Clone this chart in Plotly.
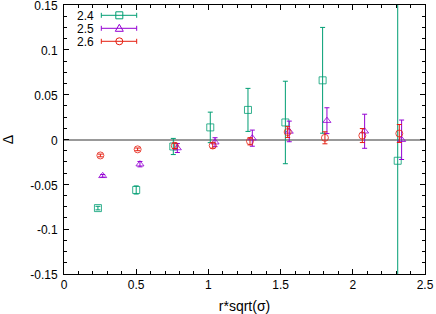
import plotly.graph_objects as go

# Series 2.4
s24_x = [0.235, 0.500, 0.757, 1.013, 1.274, 1.533, 1.791, 2.311]
s24_y = [-0.0765, -0.0563, -0.0078, 0.0135, 0.033, 0.019, 0.066, -0.0237]
s24_e = [0.002, 0.0045, 0.009, 0.017, 0.024, 0.046, 0.059, 0.25]
# Series 2.5
s25_x = [0.268, 0.526, 0.785, 1.046, 1.304, 1.560, 1.821, 2.082, 2.338]
s25_y = [-0.0405, -0.0275, -0.0095, -0.003, 0.0015, 0.009, 0.021, 0.0092, -0.0003]
s25_e = [0.0015, 0.003, 0.005, 0.005, 0.009, 0.0115, 0.0144, 0.019, 0.022]
# Series 2.6
s26_x = [0.252, 0.510, 0.767, 1.030, 1.288, 1.549, 1.807, 2.066, 2.322]
s26_y = [-0.0178, -0.011, -0.007, -0.0067, -0.002, 0.0083, 0.0019, 0.0044, 0.0067]
s26_e = [0.0015, 0.0015, 0.003, 0.003, 0.004, 0.006, 0.0067, 0.0078, 0.010]

names = ["2.4", "2.5", "2.6"]
colors = ["#009e73", "#9400d3", "#e51e10"]
symbols = ["square-open", "triangle-up-open", "circle-open"]

y_tickvals = [-0.15, -0.1, -0.05, 0, 0.05, 0.1, 0.15]
y_ticktext = ["-0.15", "-0.1", "-0.05", "0", "0.05", "0.1", "0.15"]
x_tickvals = [0, 0.5, 1, 1.5, 2, 2.5]
x_ticktext = ["0", "0.5", "1", "1.5", "2", "2.5"]

W, H = 436, 314
ML, MR, MT, MB = 64, 11, 5, 40
PW, PH = W - ML - MR, H - MT - MB

fig = go.Figure()
for name, xs, ys, es, c, s in zip(names, [s24_x, s25_x, s26_x], [s24_y, s25_y, s26_y],
                                  [s24_e, s25_e, s26_e], colors, symbols):
    fig.add_trace(go.Scatter(
        x=xs, y=ys, mode="markers", name=name, showlegend=False,
        marker=dict(symbol=s, size=7, color=c, opacity=0.8, line=dict(width=1, color=c)),
        error_y=dict(type="data", array=es, visible=True, color=c, thickness=1, width=2.5),
    ))

# gnuplot-style key (label left, error-bar sample right), placed in pixel terms
def px(xp):
    return (xp - ML) / PW

def py(yp):
    return (MT + PH - yp) / PH

font = "Liberation Sans, Arial, sans-serif"
shapes = []
annotations = []
key_rows = [15.3, 28.3, 41.3]
lx0, lx1, mx = 101.3, 136.7, 119.3
for name, c, s, ry in zip(names, colors, symbols, key_rows):
    annotations.append(dict(text=name, x=px(95), y=py(ry), xref="paper", yref="paper",
                            xanchor="right", yanchor="middle", showarrow=False,
                            borderpad=0, height=11,
                            font=dict(size=12, color="black", family=font)))
    shapes.append(dict(type="line", xref="paper", yref="paper", x0=px(lx0), x1=px(lx1),
                       y0=py(ry), y1=py(ry), line=dict(color=c, width=1)))
    for cx in (lx0, lx1):
        shapes.append(dict(type="line", xref="paper", yref="paper", x0=px(cx), x1=px(cx),
                           y0=py(ry - 2.5), y1=py(ry + 2.5), line=dict(color=c, width=1)))
    r = 3.5
    if s.startswith("square"):
        shapes.append(dict(type="rect", xref="paper", yref="paper", x0=px(mx - r), x1=px(mx + r),
                           y0=py(ry + r), y1=py(ry - r), line=dict(color=c, width=1),
                           fillcolor="rgba(0,0,0,0)"))
    elif s.startswith("circle"):
        shapes.append(dict(type="circle", xref="paper", yref="paper", x0=px(mx - r), x1=px(mx + r),
                           y0=py(ry + r), y1=py(ry - r), line=dict(color=c, width=1),
                           fillcolor="rgba(0,0,0,0)"))
    else:
        path = "M {} {} L {} {} L {} {} Z".format(px(mx), py(ry - 4), px(mx - 4), py(ry + 3),
                                                  px(mx + 4), py(ry + 3))
        shapes.append(dict(type="path", xref="paper", yref="paper", path=path,
                           line=dict(color=c, width=1), fillcolor="rgba(0,0,0,0)"))

fig.update_layout(
    width=W, height=H,
    margin=dict(l=ML, r=MR, t=MT, b=MB, autoexpand=False),
    paper_bgcolor="white", plot_bgcolor="white",
    font=dict(family=font, size=12, color="black"),
    showlegend=False,
    shapes=shapes,
    annotations=annotations,
    xaxis=dict(range=[0, 2.5], tickvals=x_tickvals, ticktext=x_ticktext, automargin=False,
               showgrid=False, zeroline=False, showline=True, linecolor="black",
               linewidth=1, mirror="ticks", ticks="inside", ticklen=5, tickcolor="black",
               ticklabeloverflow="allow",
               minor=dict(dtick=0.1, ticks="inside", ticklen=3, tickcolor="black"),
               title=dict(text="r*sqrt(σ)", standoff=11)),
    yaxis=dict(range=[-0.15, 0.15], tickvals=y_tickvals, ticktext=y_ticktext, automargin=False,
               showgrid=False, zeroline=True, zerolinecolor="#999999", zerolinewidth=1.5,
               showline=True, linecolor="black", ticklabeloverflow="allow",
               linewidth=1, mirror="ticks", ticks="inside", ticklen=5, tickcolor="black",
               ticklabelstandoff=3, ticklabelshift=1,
               minor=dict(dtick=0.0125, tick0=0, ticks="inside", ticklen=3, tickcolor="black"),
               title=dict(text="Δ", standoff=20)),
)
fig.write_html("out.html", config={"displayModeBar": False},
               post_script="document.body.style.margin='0';")
